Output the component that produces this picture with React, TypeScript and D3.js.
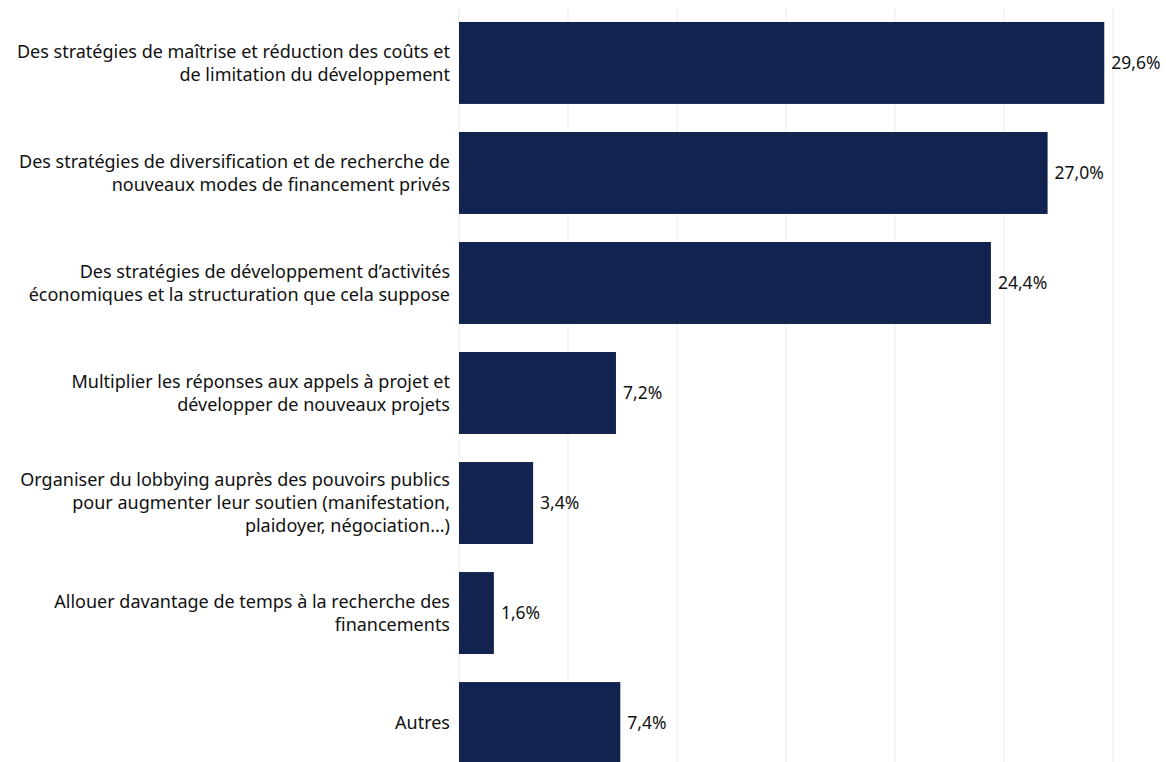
import React from "react";
import * as d3 from "d3";

const categories: string[][] = [
  ["Des stratégies de maîtrise et réduction des coûts et", "de limitation du développement"],
  ["Des stratégies de diversification et de recherche de", "nouveaux modes de financement privés"],
  ["Des stratégies de développement d’activités", "économiques et la structuration que cela suppose"],
  ["Multiplier les réponses aux appels à projet et", "développer de nouveaux projets"],
  ["Organiser du lobbying auprès des pouvoirs publics", "pour augmenter leur soutien (manifestation,", "plaidoyer, négociation...)"],
  ["Allouer davantage de temps à la recherche des", "financements"],
  ["Autres"],
];
const values: number[] = [29.6, 27.0, 24.4, 7.2, 3.4, 1.6, 7.4];
const gridTicks: number[] = [0, 5, 10, 15, 20, 25, 30];

export default function App() {
  const W = 1166, H = 762;
  const x = d3.scaleLinear().domain([0, 30]).range([459, 1113]);
  const y = d3.scaleBand<number>().domain(d3.range(values.length)).range([8, 778]).paddingInner(0.255).paddingOuter(0.127);
  const fmt = (v: number) => v.toFixed(1).replace(".", ",") + "%";
  const font = "'Noto Sans', 'Open Sans', sans-serif";
  return (
    <svg width={W} height={H} style={{ position: "absolute", left: 0, top: 0, background: "#fff" }}>
      {gridTicks.map((t) => (
        <line key={t} x1={x(t)} x2={x(t)} y1={8} y2={H} stroke="#ececec" strokeWidth={1} />
      ))}
      {values.map((v, i) => {
        const y0 = y(i)!;
        const bh = y.bandwidth();
        const cy = y0 + bh / 2;
        const lines = categories[i];
        const lh = 23;
        return (
          <g key={i}>
            <rect x={x(0)} y={y0} width={x(v) - x(0)} height={bh} fill="#13234f" />
            <text x={x(v) + 7} y={cy} dy="0.35em" fontFamily={font} fontSize={17.5} fill="#111">
              {fmt(v)}
            </text>
            <text textAnchor="end" fontFamily={font} fontSize={18} fill="#111">
              {lines.map((l, j) => (
                <tspan key={j} x={450} y={cy + (j - (lines.length - 1) / 2) * lh} dy="0.35em">
                  {l}
                </tspan>
              ))}
            </text>
          </g>
        );
      })}
    </svg>
  );
}
